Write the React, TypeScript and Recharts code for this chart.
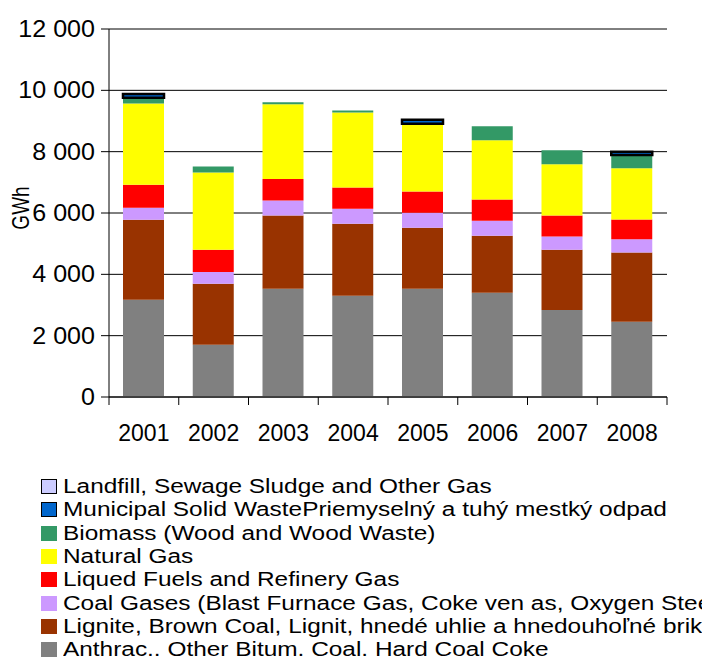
import React from "react";
import { BarChart, Bar, XAxis, YAxis, CartesianGrid } from "recharts";

const years = ["2001", "2002", "2003", "2004", "2005", "2006", "2007", "2008"];

// values in GWh
const anthracite = [3170, 1700, 3530, 3300, 3530, 3400, 2840, 2450];
const lignite = [2610, 1990, 2390, 2350, 1990, 1860, 1960, 2260];
const coalGases = [390, 390, 490, 490, 490, 490, 430, 430];
const liquidFuels = [750, 720, 700, 690, 690, 690, 690, 650];
const naturalGas = [2650, 2520, 2440, 2450, 2210, 1930, 1670, 1670];
const biomass = [190, 200, 65, 65, 0, 460, 460, 430];
const municipalWaste = [120, 0, 0, 0, 130, 0, 0, 110];
const landfillGas = [0, 0, 0, 0, 0, 0, 0, 0];

const yTicks = [0, 2000, 4000, 6000, 8000, 10000, 12000];

const series = [
  { key: "anthracite", name: "Anthrac.. Other Bitum. Coal. Hard Coal Coke", color: "#808080", values: anthracite },
  { key: "lignite", name: "Lignite, Brown Coal, Lignit, hnedé uhlie a hnedouhoľné brikety", color: "#993300", values: lignite },
  { key: "coalGases", name: "Coal Gases (Blast Furnace Gas, Coke ven as, Oxygen Steel Furnace Gas)", color: "#CC99FF", values: coalGases },
  { key: "liquidFuels", name: "Liqued Fuels and Refinery Gas", color: "#FF0000", values: liquidFuels },
  { key: "naturalGas", name: "Natural Gas", color: "#FFFF00", values: naturalGas },
  { key: "biomass", name: "Biomass (Wood and Wood Waste)", color: "#339966", values: biomass },
  { key: "municipalWaste", name: "Municipal Solid WastePriemyselný a tuhý mestký odpad", color: "#0066CC", values: municipalWaste, outline: true },
  { key: "landfillGas", name: "Landfill, Sewage Sludge and Other Gas", color: "#CCCCFF", values: landfillGas, outline: true },
];

const data = years.map((year, i) => {
  const row: any = { year };
  series.forEach((s) => (row[s.key] = s.values[i]));
  return row;
});

const FONT = "'Liberation Sans', Arial, sans-serif";
const CHART_W = 700;
const MARGIN_RIGHT = 41;
const Y_AXIS_W = 101;
const BAND = (CHART_W - MARGIN_RIGHT - Y_AXIS_W) / years.length;

const YearTick = (props: any) => {
  const { x, y, payload, index } = props;
  const left = x - BAND / 2;
  const right = x + BAND / 2;
  return (
    <g>
      <line x1={left} x2={left} y1={y} y2={y + 8} stroke="#000" />
      {index === years.length - 1 && <line x1={right} x2={right} y1={y} y2={y + 8} stroke="#000" />}
      <text x={x} y={y + 36} textAnchor="middle" dominantBaseline="central" fontSize={23} fill="#000" fontFamily={FONT}>
        {payload.value}
      </text>
    </g>
  );
};

const formatTick = (v: number) => (v >= 1000 ? `${Math.floor(v / 1000)} ${String(v % 1000).padStart(3, "0")}` : String(v));

// value labels on the left axis are a little wider than plain Arial
const ValueTick = (props: any) => {
  const { x, y, payload } = props;
  return (
    <text
      transform={`translate(${x} ${y}) scale(1.09 1)`}
      textAnchor="end"
      dominantBaseline="central"
      fontSize={23}
      fill="#000"
      fontFamily={FONT}
    >
      {formatTick(payload.value)}
    </text>
  );
};

export default function App() {
  const legendItems = [...series].reverse();
  return (
    <div style={{ position: "relative", width: 702, height: 649, overflow: "hidden", fontFamily: FONT, background: "#fff" }}>
      <BarChart
        width={CHART_W}
        height={450}
        data={data}
        margin={{ top: 21, right: MARGIN_RIGHT, left: 0, bottom: 1 }}
        barSize={41}
      >
        <CartesianGrid vertical={false} stroke="#000" strokeWidth={1} />
        <XAxis
          dataKey="year"
          height={60}
          axisLine={{ stroke: "#000" }}
          tickLine={false}
          tickSize={0}
          tickMargin={0}
          tick={<YearTick />}
          interval={0}
        />
        <YAxis
          width={Y_AXIS_W}
          domain={[0, 12000]}
          ticks={yTicks}
          axisLine={{ stroke: "#000" }}
          tickLine={{ stroke: "#000" }}
          tickSize={8}
          tickMargin={6}
          tick={<ValueTick />}
        />
        <YAxis
          yAxisId="frame"
          orientation="right"
          width={0}
          domain={[0, 12000]}
          tick={false}
          tickLine={false}
          axisLine={{ stroke: "#999", strokeWidth: 2 }}
        />
        {series.map((s) => (
          <Bar
            key={s.key}
            dataKey={s.key}
            name={s.name}
            stackId="a"
            fill={s.color}
            stroke={s.key === "municipalWaste" ? "#000" : "none"}
            strokeWidth={s.key === "municipalWaste" ? 2.5 : 0}
            isAnimationActive={false}
          />
        ))}
      </BarChart>
      <div
        style={{
          position: "absolute",
          left: 13,
          top: 200,
          fontSize: 19,
          lineHeight: 1,
          color: "#000",
          whiteSpace: "nowrap",
          transform: "translate(-50%, -50%) scale(1.25, 1) rotate(-90deg)",
        }}
      >
        GWh
      </div>
      <div style={{ position: "absolute", left: 33, top: 467, whiteSpace: "nowrap" }}>
        {legendItems.map((s) => (
          <div key={s.key} style={{ display: "flex", alignItems: "center", height: 23.3, fontSize: 20, color: "#000" }}>
            <span
              style={{
                display: "inline-block",
                boxSizing: "border-box",
                width: 16,
                height: 15,
                background: s.color,
                border: s.outline ? "1.5px solid #000" : "none",
                marginRight: 6,
                flexShrink: 0,
              }}
            />
            <span style={{ display: "inline-block", transform: "scaleX(1.22)", transformOrigin: "left center" }}>{s.name}</span>
          </div>
        ))}
      </div>
    </div>
  );
}
